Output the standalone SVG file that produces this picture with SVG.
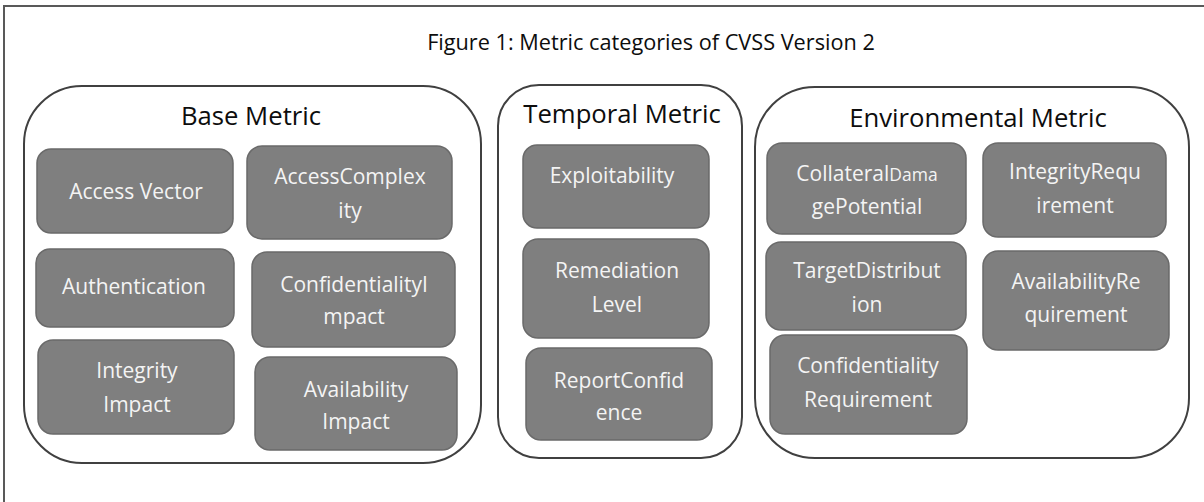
<svg xmlns="http://www.w3.org/2000/svg" width="1204" height="502" viewBox="0 0 1204 502">
<style>
.frame{fill:none;stroke:#595959;stroke-width:2}
.cont{fill:#ffffff;stroke:#404040;stroke-width:2}
.node{fill:#7f7f7f;stroke:#6a6a6a;stroke-width:1.5}
.ntx{font-family:"Open Sans","Liberation Sans",sans-serif;font-size:21px;fill:#f4f4f4;text-anchor:middle}
.htx{font-family:"Open Sans","Liberation Sans",sans-serif;font-size:25.7px;fill:#0d0d0d;text-anchor:middle}
.ttx{font-family:"Open Sans","Liberation Sans",sans-serif;font-size:21.7px;fill:#0d0d0d;text-anchor:middle}
</style>
<rect x="0" y="0" width="1204" height="502" fill="#ffffff"/>
<rect class="frame" x="4" y="6" width="1210" height="510"/>
<text id="title" class="ttx" x="651" y="50">Figure 1: Metric categories of CVSS Version 2</text>

<g id="base-metric">
<rect class="cont" x="24" y="86" width="457" height="377" rx="58" ry="58"/>
<text class="htx" x="251" y="125">Base Metric</text>
</g>
<g id="access-vector">
<rect class="node" x="37" y="149" width="196" height="84" rx="14"/>
<text class="ntx" x="136" y="199">Access Vector</text>
</g>
<g id="access-complexity">
<rect class="node" x="247" y="146" width="205" height="93" rx="15"/>
<text class="ntx" x="350" y="184">AccessComplex</text>
<text class="ntx" x="350" y="218">ity</text>
</g>
<g id="authentication">
<rect class="node" x="36" y="249" width="198" height="78" rx="14"/>
<text class="ntx" x="134" y="294">Authentication</text>
</g>
<g id="confidentiality-impact">
<rect class="node" x="252" y="252" width="203" height="95" rx="15"/>
<text class="ntx" x="354" y="292">ConfidentialityI</text>
<text class="ntx" x="354" y="324">mpact</text>
</g>
<g id="integrity-impact">
<rect class="node" x="38" y="340" width="196" height="94" rx="15"/>
<text class="ntx" x="137" y="378">Integrity</text>
<text class="ntx" x="137" y="412">Impact</text>
</g>
<g id="availability-impact">
<rect class="node" x="255" y="357" width="202" height="93" rx="15"/>
<text class="ntx" x="356" y="397">Availability</text>
<text class="ntx" x="356" y="429">Impact</text>
</g>

<g id="temporal-metric">
<rect class="cont" x="498" y="85" width="244" height="373" rx="41" ry="41"/>
<text class="htx" x="622" y="123">Temporal Metric</text>
</g>
<g id="exploitability">
<rect class="node" x="523" y="145" width="186" height="83" rx="14"/>
<text class="ntx" x="612" y="183">Exploitability</text>
</g>
<g id="remediation-level">
<rect class="node" x="523" y="239" width="186" height="99" rx="15"/>
<text class="ntx" x="617" y="278">Remediation</text>
<text class="ntx" x="617" y="312">Level</text>
</g>
<g id="report-confidence">
<rect class="node" x="526" y="348" width="186" height="92" rx="15"/>
<text class="ntx" x="619" y="388">ReportConfid</text>
<text class="ntx" x="619" y="420">ence</text>
</g>

<g id="environmental-metric">
<rect class="cont" x="755" y="87" width="434" height="371" rx="60" ry="60"/>
<text class="htx" x="978" y="127">Environmental Metric</text>
</g>
<g id="collateral-damage-potential">
<rect class="node" x="767" y="143" width="199" height="91" rx="15"/>
<text class="ntx" x="867" y="181">Collateral<tspan font-size="17.5px">Dama</tspan></text>
<text class="ntx" x="867" y="214">gePotential</text>
</g>
<g id="target-distribution">
<rect class="node" x="766" y="242" width="200" height="88" rx="15"/>
<text class="ntx" x="867" y="278">TargetDistribut</text>
<text class="ntx" x="867" y="312">ion</text>
</g>
<g id="confidentiality-requirement">
<rect class="node" x="770" y="335" width="197" height="99" rx="15"/>
<text class="ntx" x="868" y="373">Confidentiality</text>
<text class="ntx" x="868" y="407">Requirement</text>
</g>
<g id="integrity-requirement">
<rect class="node" x="983" y="143" width="183" height="94" rx="15"/>
<text class="ntx" x="1075" y="179">IntegrityRequ</text>
<text class="ntx" x="1075" y="213">irement</text>
</g>
<g id="availability-requirement">
<rect class="node" x="983" y="251" width="186" height="99" rx="15"/>
<text class="ntx" x="1076" y="289">AvailabilityRe</text>
<text class="ntx" x="1076" y="322">quirement</text>
</g>

<g id="connectors"></g>
</svg>
